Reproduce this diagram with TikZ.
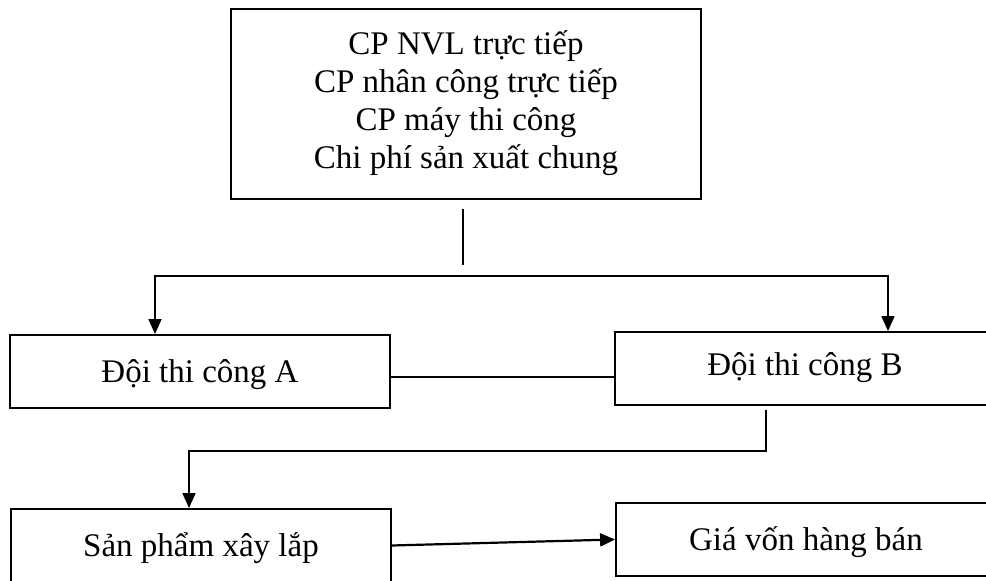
\documentclass[tikz,border=0pt]{standalone}
\usepackage{fontspec}
\setmainfont{Liberation Serif}
\usepackage{tikz}
\usetikzlibrary{arrows.meta,calc,positioning}

\begin{document}
\begin{tikzpicture}[x=1pt,y=1pt,
    hop/.style={draw,line width=1.8pt,minimum width=380pt,minimum height=73pt,
        inner sep=0pt,text height=21.8pt,text depth=0pt,
        font=\fontsize{33}{38}\selectfont},
    noi/.style={line width=1.6pt},
    muiten/.style={noi,-{Triangle[length=15pt,width=13pt]}}]
    \clip (0,0) rectangle (986,581);
    % Chi phi
    \node[hop,minimum width=470pt,minimum height=190pt,
        text height=,text depth=]
        (chiphi) at (466,477)
        {\raisebox{4pt}{\begin{tabular}{@{}c@{}}CP NVL trực tiếp\\CP nhân công trực tiếp\\
        CP máy thi công\\Chi phí sản xuất chung\end{tabular}}};
    % Doi thi cong
    \node[hop] (doiA) at (200,209.5) {Đội thi công A};
    \node[hop] (doiB) at (805,212.5) {\raisebox{4pt}{Đội thi công B}};
    % San pham, gia von
    \node[hop] (sanpham) at (201,35.5) {Sản phẩm xây lắp};
    \node[hop] (giavon) at (806,41.5) {Giá vốn hàng bán};
    % Phan bo
    \coordinate (tach) at (463,305);
    \draw[noi,shorten <=9pt,shorten >=11pt] (chiphi.south -| tach) -- (tach);
    \draw[muiten] (tach) -| ([xshift=-45pt]doiA.north);
    \draw[muiten] (tach) -| ([xshift=83pt]doiB.north);
    \draw[noi] ([yshift=-5.5pt]doiA.east) -- ([yshift=-5.5pt]doiA.east -| doiB.west);
    % Ket chuyen
    \coordinate (re) at ($(doiB.south)+(-39,-45)$);
    \draw[muiten,shorten <=4pt] (doiB.south -| re) -- (re) -| ([xshift=-12pt]sanpham.north);
    \draw[muiten,line width=2.2pt] (sanpham.east) -- (giavon.west);
\end{tikzpicture}
\end{document}
